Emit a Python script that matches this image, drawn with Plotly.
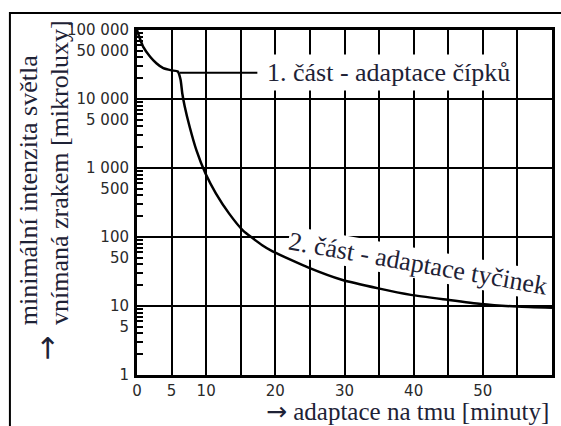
import math
import plotly.graph_objects as go

# ---- data ----
time_min = [0, 0.4, 0.9, 1.9, 2.8, 3.8, 5.0, 5.9, 6.3, 6.55, 6.9, 7.6, 8.6, 9.9,
            11.4, 13.3, 15.3, 18.1, 19.6, 24.8, 29.6, 34.9, 39.6, 44.9, 49.7, 55, 60]
threshold = [100000, 76000, 57000, 41000, 33000, 28000, 26000, 25000, 19000, 12000,
             7800, 4000, 1800, 830, 430, 220, 125, 76, 62, 36, 24, 18, 14.5, 12.3,
             10.7, 9.8, 9.4]

leader_x = [6.2, 17.4]
leader_y = [24000, 24000]

y_label_vals = [1, 5, 10, 50, 100, 500, 1000, 5000, 10000, 50000, 100000]
y_label_text = ["1", "5", "10", "50", "100", "500", "1 000", "5 000", "10 000", "50 000", "100 000"]
y_grid_vals = [10, 100, 1000, 10000]
x_label_vals = [0, 5, 10, 20, 30, 40, 50, 60]
x_grid_extra = [15, 25, 35, 45, 55]

label1 = "1. část - adaptace čípků"
label1_pos = (18.2, 24000)
label2 = "2. část - adaptace tyčinek"
label2_pos = (40.6, 42)

y_title_1 = "minimální intenzita světla"
y_title_2 = "vnímaná zrakem [mikroluxy]"
x_title = "adaptace na tmu [minuty]"
arrow = "→"

# ---- layout geometry ----
W, H = 561, 426
ML, MR, MT, MB = 137, 6, 30, 51
PW, PH = W - ML - MR, H - MT - MB


def px(xp):
    return (xp - ML) / PW


def py(yp):
    return (H - MB - yp) / PH


TXT = "#1e2236"
SERIF = "Liberation Serif, Times New Roman, Tinos, serif"
ARROW_X = '<span style="font-family:DejaVu Sans;font-size:25px">' + arrow + '</span>'
ARROW_Y = '<span style="font-family:DejaVu Sans;font-size:30px">' + arrow + '</span>'

# unlabeled minor tick marks on the y axis
minor_vals = [m * 10 ** e for e in range(0, 5) for m in (2, 3, 4, 6, 7, 8, 9)]
tick_vals = y_label_vals + minor_vals
tick_text = y_label_text + [""] * len(minor_vals)

fig = go.Figure()
fig.add_trace(go.Scatter(x=time_min, y=threshold, mode="lines",
                         line=dict(color="black", width=2.5, shape="spline", smoothing=0.5),
                         hoverinfo="skip", showlegend=False))
fig.add_trace(go.Scatter(x=leader_x, y=leader_y, mode="lines",
                         line=dict(color="black", width=2), hoverinfo="skip", showlegend=False))

fig.update_layout(
    width=W, height=H,
    margin=dict(l=ML, r=MR, t=MT, b=MB, pad=0),
    paper_bgcolor="white", plot_bgcolor="white",
    showlegend=False,
    xaxis=dict(range=[0, 60], tickvals=x_label_vals, ticks="",
               showgrid=True, gridcolor="black", gridwidth=2,
               minor=dict(tickvals=x_grid_extra, showgrid=True, gridcolor="black", gridwidth=2, ticks=""),
               showline=True, linecolor="black", linewidth=2.5, mirror=True,
               zeroline=False, ticklabelstandoff=0,
               tickfont=dict(family="DejaVu Sans", size=15, color="#2a2a2a")),
    yaxis=dict(type="log", range=[0, 5], tickvals=tick_vals, ticktext=tick_text,
               ticks="inside", ticklen=6, tickwidth=1.5, tickcolor="black",
               showgrid=False,
               minor=dict(tickvals=y_grid_vals, showgrid=True, gridcolor="black", gridwidth=2, ticks=""),
               showline=True, linecolor="black", linewidth=3, mirror=True,
               zeroline=False, ticklabelstandoff=2,
               tickfont=dict(family="DejaVu Sans", size=15, color="#2a2a2a")),
    shapes=[dict(type="rect", xref="paper", yref="paper",
                 x0=px(9), x1=px(575), y0=py(440), y1=py(13),
                 line=dict(color="black", width=2), fillcolor="rgba(0,0,0,0)", layer="below")],
)

fig.add_annotation(x=label1_pos[0], y=math.log10(label1_pos[1]), xref="x", yref="y",
                   text=label1, showarrow=False, xanchor="left", yanchor="middle",
                   bgcolor="white", borderpad=3,
                   font=dict(family=SERIF, size=26, color=TXT))
fig.add_annotation(x=label2_pos[0], y=math.log10(label2_pos[1]), xref="x", yref="y",
                   text=label2, showarrow=False, textangle=10,
                   bgcolor="white", borderpad=0,
                   font=dict(family=SERIF, size=26, color=TXT))

fig.add_annotation(x=px(554), y=py(411), xref="paper", yref="paper",
                   text=ARROW_X + " " + x_title,
                   showarrow=False, xanchor="right", yanchor="middle",
                   font=dict(family=SERIF, size=25, color=TXT))
fig.add_annotation(x=px(28), y=py(327), xref="paper", yref="paper", text=y_title_1,
                   showarrow=False, textangle=-90, xanchor="center", yanchor="bottom",
                   font=dict(family=SERIF, size=26, color=TXT))
fig.add_annotation(x=px(59), y=py(327), xref="paper", yref="paper", text=y_title_2,
                   showarrow=False, textangle=-90, xanchor="center", yanchor="bottom",
                   font=dict(family=SERIF, size=26, color=TXT))
fig.add_annotation(x=px(45), y=py(348), xref="paper", yref="paper", text=ARROW_Y,
                   showarrow=False, textangle=-90, xanchor="center", yanchor="middle",
                   font=dict(family=SERIF, size=26, color=TXT))

fig.write_html("out.html")
